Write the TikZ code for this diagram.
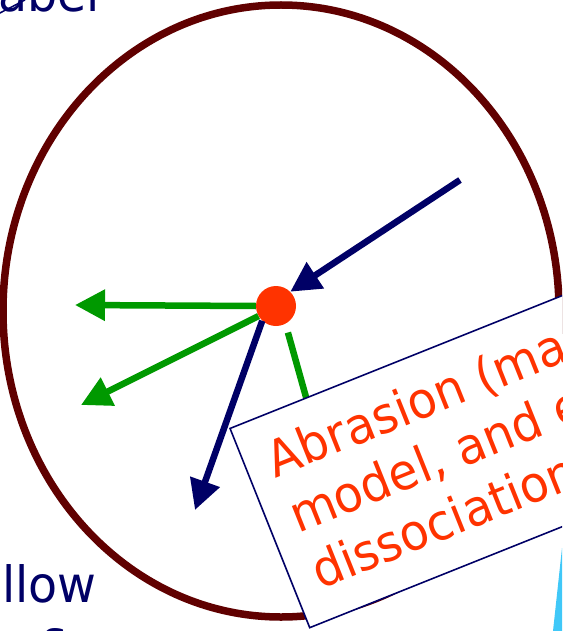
\documentclass[tikz,border=0pt]{standalone}
\usepackage{fontspec}
\setmainfont{DejaVu Sans}[FakeStretch=0.95]
\usetikzlibrary{arrows.meta}
\definecolor{rim}{RGB}{96,0,0}
\definecolor{navy}{RGB}{0,0,102}
\definecolor{leaf}{RGB}{0,153,0}
\definecolor{hot}{RGB}{255,51,0}
\definecolor{sky}{RGB}{64,200,248}

\begin{document}
\begin{tikzpicture}[x=1pt, y=-1pt,
    big/.style={font={\fontsize{50}{60}\selectfont}},
    beam/.style={line width=6.5pt, -{Triangle[length=30pt,width=30pt]}}]
    \clip (0,0) rectangle (562,631);

    % target nucleus
    \draw[rim, line width=7.5pt] (281,311) ellipse [x radius=278, y radius=306];
    \fill[sky] (562,548) -- (553,631) -- (562,631) -- cycle;

    \coordinate (inStart) at (460,180);
    \coordinate (outTip) at (195,510);
    \coordinate (leftTip) at (75,305);
    \coordinate (lowTip) at (81,405);
    \coordinate (hidden) at (318,440);
    \coordinate (leadA) at (-2,14);
    \coordinate (leadB) at (25,0);

    \node[circle, fill=hot, minimum size=40pt, inner sep=0pt] (ion) at (276,306) {};

    \draw[beam, navy] (inStart) -- (ion.45);
    \draw[beam, leaf] (ion.west) -- (leftTip);
    \draw[beam, leaf] (ion.210) -- (lowTip);
    \draw[beam, navy] (ion.227) -- (outTip);
    \draw[leaf, line width=6.5pt, shorten <=9pt] (ion.298) -- (hidden);

    \node[draw=navy, line width=1.6pt, fill=white, text=hot, big, align=left,
        rotate=21.8, anchor=north west, inner xsep=24pt, inner ysep=25pt]
        (abrasion) at (229,428) {Abrasion (macroscopic\\model, and electromagnetic\\dissociation)};

    % cut-off slide text
    \draw[navy, line width=1.5pt] (leadA) -- (leadB);
    \node[big, text=navy, anchor=base east, inner sep=0pt] (tag) at (100,12) {Label};
    \node[font={\fontsize{50}{54}\selectfont}, text=navy, anchor=north west, inner sep=0pt, align=left]
        (note) at (2,564) {llow\\\hspace*{40pt}s};
\end{tikzpicture}
\end{document}
